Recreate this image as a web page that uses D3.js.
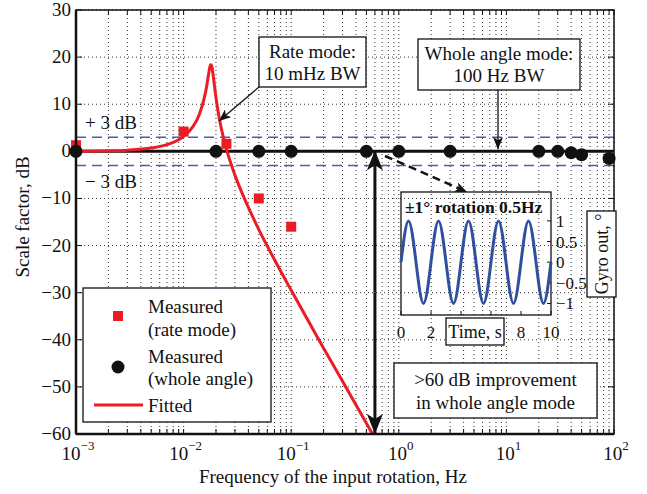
<!DOCTYPE html>
<html><head><meta charset="utf-8">
<script src="https://cdn.jsdelivr.net/npm/d3@7/dist/d3.min.js"></script>
<style>
body{margin:0;background:#fff}
svg{display:block}
text{font-family:"Liberation Serif","Times New Roman",serif;fill:#111}
</style>
</head><body>
<svg id="c" width="647" height="494"></svg>
<script>
// ---------- data ----------
const rateFreq = [0.001, 0.01, 0.025, 0.05, 0.1];
const rateDb   = [1.3, 4.2, 1.6, -10, -16];
const wholeFreq = [0.001, 0.02, 0.05, 0.1, 0.5, 1, 3, 20, 30, 40, 50, 90];
const wholeDb   = [0, 0, 0, 0, 0, 0, 0, 0, 0, -0.3, -0.7, -1.5];
const fitFreq = [0.001,0.002,0.003,0.005,0.007,0.01,0.012,0.014,0.016,0.0165,0.017,0.0175,0.0178,0.018,0.0182,0.0185,0.019,0.02,0.021,0.022,0.025,0.03,0.04,0.05,0.07,0.1,0.2,0.3,0.5,0.6];
const fitDb   = [0.03,0.11,0.24,0.69,1.41,3.17,5.02,7.83,12.56,14.25,16.1,17.8,18.37,18.4,18.18,17.4,15.4,11.4,8.24,5.76,0.5,-5.05,-11.9,-16.6,-23.0,-29.5,-41.8,-48.8,-57.7,-60.9];
const xMajorTicks = [1e-3, 1e-2, 1e-1, 1e0, 1e1, 1e2];
const xTickExp = ["\u22123", "\u22122", "\u22121", "0", "1", "2"];
const yTicks = [-60, -50, -40, -30, -20, -10, 0, 10, 20, 30];
const yTickLabels = ["\u221260","\u221250","\u221240","\u221230","\u221220","\u221210","0","10","20","30"];
const bandDb = [3, -3];
const referenceDb = 0;
const improvementFreq = 0.6;
// inset (time response)
const insetTime = [0,0.5,1,1.5,2,2.5,3,3.5,4,4.5,5,5.5,6,6.5,7,7.5,8,8.5,9,9.5,10];
const insetDeg  = [0,1,0,-1,0,1,0,-1,0,1,0,-1,0,1,0,-1,0,1,0,-1,0];
const insetXTicks = [0, 2, 4, 6, 8, 10];
const insetXLabels = ["0", "2", "", "", "8", "10"];   // 4 and 6 hidden behind the "Time, s" box
const insetYTicks = [-1, -0.5, 0, 0.5, 1];
const insetYLabels = ["\u22121", "\u22120.5", "0", "0.5", "1"];

// ---------- layout ----------
const L = 76, R = 614, T = 10, B = 434;
const RED = "#ec1c24", BLUE = "#4262ad", SINE = "#2f4f9f";
const svg = d3.select("#c");
const x = d3.scaleLog().domain([1e-3, 1e2]).range([L, R]);
const y = d3.scaleLinear().domain([-60, 30]).range([B, T]);

const minorTicks = [];
for (let e = -3; e < 2; e++) for (let d = 2; d <= 9; d++) minorTicks.push(d * Math.pow(10, e));

// defs
const defs = svg.append("defs");
defs.append("clipPath").attr("id", "clip").append("rect")
  .attr("x", L).attr("y", T).attr("width", R - L).attr("height", B - T);
defs.append("marker").attr("id", "thin").attr("viewBox", "0 0 12 10")
  .attr("refX", 12).attr("refY", 5).attr("markerWidth", 12).attr("markerHeight", 10)
  .attr("markerUnits", "userSpaceOnUse").attr("orient", "auto")
  .append("path").attr("d", "M0,0 L12,5 L0,10 L3,5 Z").attr("fill", "#111");
defs.append("marker").attr("id", "dash").attr("viewBox", "0 0 12 10")
  .attr("refX", 12).attr("refY", 5).attr("markerWidth", 12).attr("markerHeight", 10)
  .attr("markerUnits", "userSpaceOnUse").attr("orient", "auto")
  .append("path").attr("d", "M0,0 L12,5 L0,10 L3,5 Z").attr("fill", "#111");
defs.append("marker").attr("id", "big").attr("viewBox", "0 0 20 16")
  .attr("refX", 20).attr("refY", 8).attr("markerWidth", 20).attr("markerHeight", 16)
  .attr("markerUnits", "userSpaceOnUse").attr("orient", "auto")
  .append("path").attr("d", "M0,0 L20,8 L0,16 L5,8 Z").attr("fill", "#111");

// grid
const grid = svg.append("g").attr("stroke", "#333").attr("stroke-width", 1).attr("stroke-dasharray", "1,3");
grid.selectAll(".gx").data(xMajorTicks.concat(minorTicks)).join("line")
  .attr("x1", d => x(d)).attr("x2", d => x(d)).attr("y1", T).attr("y2", B);
grid.selectAll(".gy").data(yTicks).join("line")
  .attr("x1", L).attr("x2", R).attr("y1", d => y(d)).attr("y2", d => y(d));

// ticks (inward, box style)
const tk = svg.append("g").attr("stroke", "#111").attr("stroke-width", 1);
xMajorTicks.concat(minorTicks).forEach(d => {
  tk.append("line").attr("x1", x(d)).attr("x2", x(d)).attr("y1", B).attr("y2", B - 5);
  tk.append("line").attr("x1", x(d)).attr("x2", x(d)).attr("y1", T).attr("y2", T + 5);
});
yTicks.forEach(d => {
  tk.append("line").attr("x1", L).attr("x2", L + 6).attr("y1", y(d)).attr("y2", y(d));
  tk.append("line").attr("x1", R).attr("x2", R - 6).attr("y1", y(d)).attr("y2", y(d));
});

// tick labels
svg.append("g").selectAll("text").data(yTicks).join("text")
  .attr("x", L - 5).attr("y", d => y(d) + 6).attr("text-anchor", "end")
  .attr("font-size", 19).text((d, i) => yTickLabels[i]);
const xl = svg.append("g").selectAll("text").data(xMajorTicks).join("text")
  .attr("x", d => x(d) + 2).attr("y", 460).attr("text-anchor", "middle").attr("font-size", 19);
xl.append("tspan").text("10");
xl.append("tspan").attr("dy", -10).attr("font-size", 13).text((d, i) => xTickExp[i]);

// axis labels
svg.append("text").attr("x", 333).attr("y", 483).attr("text-anchor", "middle")
  .attr("font-size", 19).text("Frequency of the input rotation, Hz");
svg.append("text").attr("transform", "translate(29,217) rotate(-90)").attr("text-anchor", "middle")
  .attr("font-size", 19).text("Scale factor, dB");

// plot content
const plot = svg.append("g").attr("clip-path", "url(#clip)");
plot.selectAll(".band").data(bandDb).join("line")
  .attr("x1", L).attr("x2", R).attr("y1", d => y(d)).attr("y2", d => y(d))
  .attr("stroke", BLUE).attr("stroke-width", 1.5).attr("stroke-dasharray", "10,6");

// 0 dB reference line
plot.append("line").attr("x1", L).attr("x2", R).attr("y1", y(referenceDb)).attr("y2", y(referenceDb))
  .attr("stroke", "#111").attr("stroke-width", 3);

// fitted curve
plot.append("path")
  .datum(fitFreq.map((f, i) => [f, fitDb[i]]))
  .attr("d", d3.line().curve(d3.curveMonotoneX).x(d => x(d[0])).y(d => y(d[1])))
  .attr("fill", "none").attr("stroke", RED).attr("stroke-width", 3);

// measured rate mode
svg.append("g").selectAll("rect").data(rateFreq.map((f, i) => [f, rateDb[i]])).join("rect")
  .attr("x", d => x(d[0]) - 5).attr("y", d => y(d[1]) - 5).attr("width", 10).attr("height", 10)
  .attr("fill", RED);
// measured whole angle
svg.append("g").selectAll("circle").data(wholeFreq.map((f, i) => [f, wholeDb[i]])).join("circle")
  .attr("cx", d => x(d[0])).attr("cy", d => y(d[1])).attr("r", 6.5).attr("fill", "#111");

// axes box
svg.append("rect").attr("x", L).attr("y", T).attr("width", R - L).attr("height", B - T)
  .attr("fill", "none").attr("stroke", "#111").attr("stroke-width", 1.5);
svg.append("line").attr("x1", L).attr("x2", L).attr("y1", T).attr("y2", B).attr("stroke", "#111").attr("stroke-width", 2.5);
svg.append("line").attr("x1", L).attr("x2", R).attr("y1", B).attr("y2", B).attr("stroke", "#111").attr("stroke-width", 2.5);

// +/- 3 dB labels
svg.append("text").attr("x", 85).attr("y", y(3) - 8).attr("font-size", 19).text("+ 3 dB");
svg.append("text").attr("x", 85).attr("y", y(-3) + 23).attr("font-size", 19).text("\u2212 3 dB");

// big double arrow
svg.append("line").attr("x1", x(improvementFreq)).attr("x2", x(improvementFreq))
  .attr("y1", y(-30)).attr("y2", y(0) - 1).attr("stroke", "#111").attr("stroke-width", 3)
  .attr("marker-end", "url(#big)");
svg.append("line").attr("x1", x(improvementFreq)).attr("x2", x(improvementFreq))
  .attr("y1", y(-30)).attr("y2", y(-60)).attr("stroke", "#111").attr("stroke-width", 3)
  .attr("marker-end", "url(#big)");

// text boxes
function box(x0, y0, w, h, lines, baseY, fs) {
  const g = svg.append("g");
  g.append("rect").attr("x", x0).attr("y", y0).attr("width", w).attr("height", h)
    .attr("fill", "#fff").attr("stroke", "#111").attr("stroke-width", 1.3);
  lines.forEach((t, i) => g.append("text").attr("x", x0 + w / 2).attr("y", baseY[i])
    .attr("text-anchor", "middle").attr("font-size", fs).text(t));
  return g;
}
svg.append("line").attr("x1", 259).attr("y1", 87).attr("x2", 219).attr("y2", 121)
  .attr("stroke", "#111").attr("stroke-width", 1.3).attr("marker-end", "url(#thin)");
box(259, 37, 107, 50, ["Rate mode:", "10 mHz BW"], [58, 80], 19);
svg.append("line").attr("x1", 498).attr("y1", 90).attr("x2", 498).attr("y2", y(0) - 2)
  .attr("stroke", "#111").attr("stroke-width", 1.3).attr("marker-end", "url(#thin)");
box(418, 39, 162, 51, ["Whole angle mode:", "100 Hz BW"], [60, 82], 19);
box(394, 363, 203, 55, [">60 dB improvement", "in whole angle mode"], [386, 409], 19);

// dashed pointer to inset
svg.append("line").attr("x1", 385).attr("y1", 156).attr("x2", 467).attr("y2", 192)
  .attr("stroke", "#111").attr("stroke-width", 2.5).attr("stroke-dasharray", "8,5")
  .attr("marker-end", "url(#dash)");

// ---------- inset ----------
const IL = 401, IR = 551, IT = 192, IB = 315;
const ix = d3.scaleLinear().domain([0, 10]).range([IL, IR]);
const iy = d3.scaleLinear().domain([-1.28, 1.7]).range([IB, IT]);
const inset = svg.append("g");
inset.append("rect").attr("x", IL).attr("y", IT).attr("width", IR - IL).attr("height", IB - IT)
  .attr("fill", "none").attr("stroke", "#111").attr("stroke-width", 1.3);
insetYTicks.forEach(d => {
  inset.append("line").attr("x1", IR).attr("x2", IR - 4).attr("y1", iy(d)).attr("y2", iy(d)).attr("stroke", "#111");
});
insetXTicks.forEach(d => {
  inset.append("line").attr("x1", ix(d)).attr("x2", ix(d)).attr("y1", IB).attr("y2", IB - 4).attr("stroke", "#111");
});
inset.append("path").datum(insetTime.map((t, i) => [t, insetDeg[i]]))
  .attr("d", d3.line().curve(d3.curveNatural).x(d => ix(d[0])).y(d => iy(d[1])))
  .attr("fill", "none").attr("stroke", SINE).attr("stroke-width", 3);
inset.append("text").attr("x", IL + 4).attr("y", IT + 21).attr("font-size", 17.5)
  .attr("font-weight", "bold").text("\u00b11\u00b0 rotation 0.5Hz");
inset.selectAll(".iyl").data(insetYTicks).join("text")
  .attr("x", IR + 5).attr("y", d => iy(d) + 6).attr("font-size", 17)
  .text((d, i) => insetYLabels[i]);
inset.selectAll(".ixl").data(insetXTicks).join("text")
  .attr("x", d => ix(d)).attr("y", 338).attr("text-anchor", "middle").attr("font-size", 17)
  .text((d, i) => insetXLabels[i]);
inset.append("rect").attr("x", 446).attr("y", 318).attr("width", 58).attr("height", 27)
  .attr("fill", "#fff").attr("stroke", "#111").attr("stroke-width", 1.3);
inset.append("text").attr("x", 475).attr("y", 338).attr("text-anchor", "middle").attr("font-size", 18).text("Time, s");
inset.append("rect").attr("x", 587).attr("y", 211).attr("width", 29).attr("height", 86)
  .attr("fill", "#fff").attr("stroke", "#111").attr("stroke-width", 1.3);
inset.append("text").attr("transform", "translate(608,254) rotate(-90)").attr("text-anchor", "middle")
  .attr("font-size", 18).text("Gyro out, \u00b0");

// ---------- legend ----------
const lg = svg.append("g");
lg.append("rect").attr("x", 83).attr("y", 288).attr("width", 188).attr("height", 134)
  .attr("fill", "#fff").attr("stroke", "#111").attr("stroke-width", 1.3);
lg.append("rect").attr("x", 113).attr("y", 311).attr("width", 10).attr("height", 10).attr("fill", RED);
lg.append("circle").attr("cx", 118).attr("cy", 367).attr("r", 6.5).attr("fill", "#111");
lg.append("line").attr("x1", 94).attr("x2", 143).attr("y1", 405).attr("y2", 405).attr("stroke", RED).attr("stroke-width", 3);
[["Measured", 313], ["(rate mode)", 336], ["Measured", 363], ["(whole angle)", 385], ["Fitted", 412]]
  .forEach(([t, yy]) => lg.append("text").attr("x", 148).attr("y", yy).attr("font-size", 19).text(t));
</script>
</body></html>
